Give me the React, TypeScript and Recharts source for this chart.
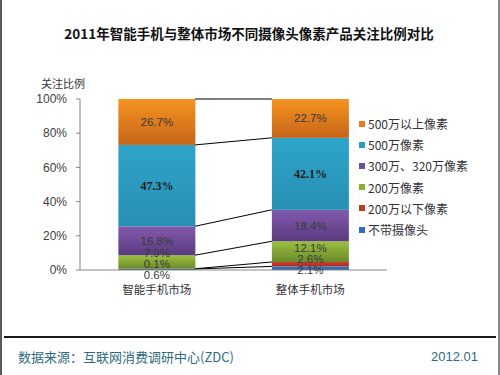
import { ComposedChart, Bar, XAxis, YAxis, LabelList, Legend } from "recharts";

// categories and series (bottom of the stack first)
const categories = ["智能手机市场", "整体手机市场"];
const seriesNames = ["不带摄像头", "200万以下像素", "200万像素", "300万、320万像素", "500万像素", "500万以上像素"];
const noCamera = [0.6, 2.1];
const below2m = [0.1, 2.6];
const pix2m = [7.9, 12.1];
const pix3m = [16.8, 18.4];
const pix5m = [47.3, 42.1];
const above5m = [26.7, 22.7];
const yTicks = [0, 0.2, 0.4, 0.6, 0.8, 1];

const seriesValues = [noCamera, below2m, pix2m, pix3m, pix5m, above5m];
const seriesColors = [
  { top: "#3579c4", bottom: "#2a5c9c", key: "#2f6db5" },
  { top: "#cc3b2f", bottom: "#a82f25", key: "#be3a2e" },
  { top: "#9bc040", bottom: "#6a8a2b", key: "#88ae38" },
  { top: "#835bae", bottom: "#5a3a80", key: "#6e4b99" },
  { top: "#2fa4c9", bottom: "#278fb3", key: "#2c9bc2" },
  { top: "#f7931f", bottom: "#c4651a", key: "#e8791d" },
];

const data = categories.map((name, i) => {
  const row: Record<string, any> = { name };
  seriesValues.forEach((vals, k) => (row["s" + k] = vals[i]));
  return row;
});

const CHART_H = 300;
const TOP = 99;
const X_AXIS_H = 30;
const PLOT_H = CHART_H - TOP - X_AXIS_H;
const BAR_GAP = 0.25;
const LABEL_GAP = 11;
const LABEL_BIAS = 2.5;

const totals = categories.map((_, i) => seriesValues.reduce((s, v) => s + v[i], 0));
const cumulative = (k: number, i: number) =>
  seriesValues.slice(0, k + 1).reduce((s, v) => s + v[i], 0) / totals[i];

// spread overlapping labels of one bar apart (px, upward)
function labelShifts(i: number): number[] {
  const vals = seriesValues.map((v) => v[i]);
  let acc = 0;
  const nat = vals.map((v) => {
    const c = ((acc + v / 2) / totals[i]) * PLOT_H;
    acc += v;
    return c;
  });
  let cls: number[][] = nat.map((_, j) => [j]);
  const place = (cl: number[]) => {
    const m = cl.reduce((s, j) => s + nat[j], 0) / cl.length + (cl.length > 1 ? LABEL_BIAS : 0);
    return cl.map((_, j) => m + (j - (cl.length - 1) / 2) * LABEL_GAP);
  };
  let merged = true;
  while (merged) {
    merged = false;
    for (let c = 0; c < cls.length - 1; c++) {
      const a = place(cls[c]);
      const b = place(cls[c + 1]);
      if (b[0] - a[a.length - 1] < LABEL_GAP) {
        cls.splice(c, 2, [...cls[c], ...cls[c + 1]]);
        merged = true;
        break;
      }
    }
  }
  const pos: number[] = new Array(vals.length);
  cls.forEach((cl) => place(cl).forEach((p, j) => (pos[cl[j]] = p)));
  return pos.map((p, j) => p - nat[j]);
}
const shifts = categories.map((_, i) => labelShifts(i));

const latin = '"Liberation Sans", "Noto Sans CJK SC", sans-serif';
const cjk = '"Noto Sans CJK SC", "Liberation Sans", sans-serif';

// bar segment + the series line joining it to the same segment of the first bar
const makeShape = (k: number) => (props: any) => {
  const { x, y, width, height, index } = props;
  const gap = (width * 2 * BAR_GAP) / (1 - 2 * BAR_GAP);
  return (
    <g>
      <rect x={x} y={y} width={width} height={Math.max(height, 0)} fill={`url(#g${k})`} />
      {index === 1 && (
        <line
          x1={x}
          y1={y}
          x2={x - gap}
          y2={y + (cumulative(k, 1) - cumulative(k, 0)) * PLOT_H}
          stroke="#000"
          strokeWidth={1}
        />
      )}
    </g>
  );
};

const makeLabel = (k: number) => (props: any) => {
  const vb = props.viewBox && typeof props.viewBox.height === "number" ? props.viewBox : props;
  const i = props.index;
  const cy = vb.y + vb.height / 2 - shifts[i][k];
  const cx = vb.x + vb.width / 2;
  const serif = k === 4;
  return (
    <text
      x={cx}
      y={cy}
      textAnchor="middle"
      dominantBaseline="central"
      fontSize={serif ? 12 : 11.5}
      fontWeight={serif ? 700 : 400}
      fontFamily={serif ? '"Liberation Serif", serif' : latin}
      fill={serif ? "#1e1e1e" : "#3a3a3a"}
    >
      {seriesValues[k][i].toFixed(1)}%
    </text>
  );
};

const LegendBox = () => (
  <div style={{ fontFamily: cjk, fontSize: 12, color: "#333" }}>
    {seriesNames
      .map((n, k) => ({ n, k }))
      .reverse()
      .map(({ n, k }) => (
        <div key={n} style={{ height: 21.2, display: "flex", alignItems: "center", whiteSpace: "nowrap" }}>
          <span style={{ width: 6, height: 6, background: seriesColors[k].key, marginRight: 3 }} />
          {n}
        </div>
      ))}
  </div>
);

export default function App() {
  return (
    <div
      style={{
        position: "absolute",
        left: 0,
        top: 0,
        width: 500,
        height: 375,
        background: "#fff",
        boxSizing: "border-box",
        borderLeft: "2px solid #5a5a5a",
        borderRight: "2px solid #8a8a8a",
        overflow: "hidden",
      }}
    >
      <div
        style={{
          position: "absolute",
          top: 24,
          left: 0,
          width: 494,
          textAlign: "center",
          fontFamily: cjk,
          fontSize: 13.5,
          lineHeight: "18px",
          fontWeight: 700,
          color: "#111",
        }}
      >
        2011年智能手机与整体市场不同摄像头像素产品关注比例对比
      </div>
      <div style={{ position: "absolute", top: 76, left: 39, fontFamily: cjk, fontSize: 11, lineHeight: "14px", color: "#333" }}>
        关注比例
      </div>
      <div style={{ position: "absolute", top: 0, left: -2 }}>
        <ComposedChart
          width={500}
          height={CHART_H}
          data={data}
          stackOffset="expand"
          barCategoryGap={`${BAR_GAP * 100}%`}
          margin={{ top: TOP, right: 113, bottom: 0, left: 40 }}
        >
          <defs>
            {seriesColors.map((c, k) => (
              <linearGradient key={k} id={"g" + k} x1="0" y1="0" x2="0" y2="1">
                <stop offset="0%" stopColor={c.top} />
                <stop offset="100%" stopColor={c.bottom} />
              </linearGradient>
            ))}
          </defs>
          <XAxis
            dataKey="name"
            height={X_AXIS_H}
            stroke="#888"
            tickLine={false}
            tickSize={0}
            tickMargin={16}
            tick={{ fill: "#333", fontSize: 11.5, fontFamily: cjk }}
          />
          <YAxis
            width={40}
            domain={[0, 1]}
            ticks={yTicks}
            tickFormatter={(v: number) => `${Math.round(v * 100)}%`}
            stroke="#868686"
            tickSize={4}
            tickMargin={9}
            tick={{ fill: "#404040", fontSize: 12, fontFamily: latin }}
          />
          <Legend
            layout="horizontal"
            verticalAlign="middle"
            content={<LegendBox />}
            wrapperStyle={{ top: 113, left: 359, width: 140 }}
          />
          {seriesNames.map((n, k) => (
            <Bar
              key={n}
              dataKey={"s" + k}
              name={n}
              stackId="a"
              fill={`url(#g${k})`}
              shape={makeShape(k)}
              isAnimationActive={false}
            >
              <LabelList content={makeLabel(k)} />
            </Bar>
          ))}
        </ComposedChart>
      </div>
      <div style={{ position: "absolute", top: 336, left: 2, width: 492, height: 2, background: "#1a1a1a" }} />
      <div style={{ position: "absolute", top: 349, left: 16, fontFamily: cjk, fontSize: 13, lineHeight: "16px", color: "#2f6a80" }}>
        数据来源：互联网消费调研中心(ZDC)
      </div>
      <div style={{ position: "absolute", top: 349, right: 20, fontFamily: latin, fontSize: 13, lineHeight: "16px", color: "#2f6a80" }}>
        2012.01
      </div>
    </div>
  );
}
